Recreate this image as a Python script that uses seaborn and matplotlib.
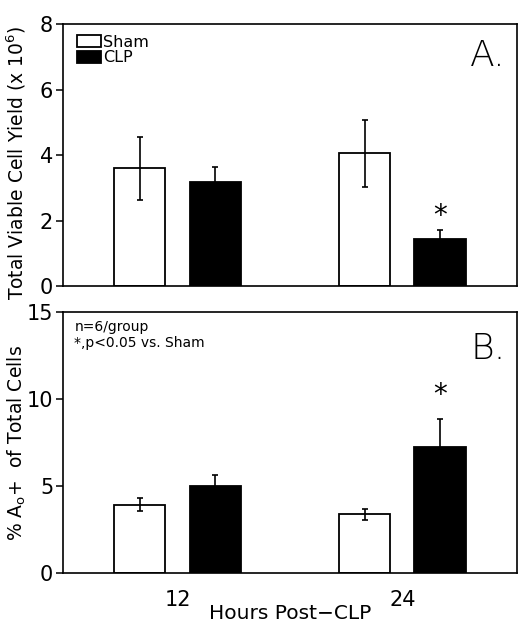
import matplotlib
matplotlib.use("Agg")
import matplotlib.pyplot as plt
import seaborn as sns
import pandas as pd
import numpy as np

# ---- data ----
times = ["12", "24"]
groups = ["Sham", "CLP"]
yield_sham = [3.60, 4.06]
yield_clp = [3.18, 1.43]
yield_sham_sem = [0.96, 1.02]
yield_clp_sem = [0.47, 0.28]
ao_sham = [3.92, 3.37]
ao_clp = [5.01, 7.23]
ao_sham_sem = [0.36, 0.32]
ao_clp_sem = [0.65, 1.65]
yticks_a = [0, 2, 4, 6, 8]
yticks_b = [0, 5, 10, 15]

sns.set_theme(style="white")
plt.rcParams["font.family"] = ["DejaVu Sans"]
plt.rcParams["mathtext.fontset"] = "dejavusans"
plt.rcParams["text.color"] = "black"
plt.rcParams["axes.labelcolor"] = "black"
plt.rcParams["xtick.color"] = "black"
plt.rcParams["ytick.color"] = "black"

def make_df(sham, clp):
    rows = []
    for t, v in zip(times, sham):
        rows.append({"time": t, "group": "Sham", "value": v})
    for t, v in zip(times, clp):
        rows.append({"time": t, "group": "CLP", "value": v})
    return pd.DataFrame(rows)

fig = plt.figure(figsize=(5.2, 6.22), dpi=100)
axA = fig.add_axes([0.121, 0.540, 0.873, 0.421])
axB = fig.add_axes([0.121, 0.079, 0.873, 0.419])

palette = {"Sham": "white", "CLP": "black"}

def draw(ax, sham, clp, sham_sem, clp_sem, ylim, yticks):
    df = make_df(sham, clp)
    sns.barplot(data=df, x="time", y="value", hue="group", order=times,
                hue_order=groups, palette=palette, edgecolor="black",
                linewidth=1.3, width=0.67, gap=0.32, errorbar=None, ax=ax)
    sems = {"Sham": sham_sem, "CLP": clp_sem}
    vals = {"Sham": sham, "CLP": clp}
    for cont, g in zip(ax.containers, groups):
        for bar, v, s in zip(cont.patches, vals[g], sems[g]):
            xc = bar.get_x() + bar.get_width() / 2
            ax.errorbar(xc, v, yerr=s, fmt="none", ecolor="black",
                        elinewidth=1.2, capsize=2.5, capthick=1.2, zorder=5)
    ax.set_ylim(*ylim)
    ax.set_yticks(yticks)
    ax.set_xlim(-0.51, 1.51)
    for sp in ax.spines.values():
        sp.set_visible(True)
        sp.set_color("black")
        sp.set_linewidth(1.2)
    ax.tick_params(axis="y", which="major", left=True, length=5, width=1.1,
                   direction="out", labelsize=15, colors="black", pad=2)
    ax.set_xlabel("")
    ax.set_ylabel("")
    return ax

draw(axA, yield_sham, yield_clp, yield_sham_sem, yield_clp_sem, (0, 8), yticks_a)
draw(axB, ao_sham, ao_clp, ao_sham_sem, ao_clp_sem, (0, 15), yticks_b)

# x axes
axA.tick_params(axis="x", bottom=False, labelbottom=False)
axB.tick_params(axis="x", bottom=False, labelsize=15, colors="black", pad=6)
axB.set_xlabel("Hours Post\u2212CLP", fontsize=14.5, labelpad=-4)

axA.set_ylabel("Total Viable Cell Yield (x 10$^{6}$)", fontsize=13.5)
axB.set_ylabel(r"% A$_{\mathrm{o}}$+  of Total Cells", fontsize=13.5)
axA.yaxis.set_label_coords(-0.078, 0.47)
axB.yaxis.set_label_coords(-0.078, 0.5)

# legend
handles, labels = axA.get_legend_handles_labels()
if axA.get_legend() is not None:
    axA.get_legend().remove()
if axB.get_legend() is not None:
    axB.get_legend().remove()
axA.legend(handles, labels, loc="upper left", bbox_to_anchor=(0.018, 0.985),
           frameon=False, fontsize=11.5, handlelength=1.5, handleheight=0.75,
           handletextpad=0.1, labelspacing=0.05, borderaxespad=0.0)

# panel labels
axA.text(0.975, 0.945, "A.", transform=axA.transAxes, ha="right", va="top",
         fontsize=26, fontweight="light", color="black")
axB.text(0.975, 0.925, "B.", transform=axB.transAxes, ha="right", va="top",
         fontsize=26, fontweight="light", color="black")

axB.text(0.025, 0.97, "n=6/group\n*,p<0.05 vs. Sham", transform=axB.transAxes,
         ha="left", va="top", fontsize=10, color="black", linespacing=1.2)

# significance stars
clp_barA = axA.containers[1].patches[1]
clp_barB = axB.containers[1].patches[1]
axA.text(clp_barA.get_x() + clp_barA.get_width() / 2, yield_clp[1] + yield_clp_sem[1],
         "*", ha="center", va="bottom", fontsize=20, color="black")
axB.text(clp_barB.get_x() + clp_barB.get_width() / 2, ao_clp[1] + ao_clp_sem[1] + 0.55,
         "*", ha="center", va="bottom", fontsize=20, color="black")

fig.savefig("out.png", dpi=100)
